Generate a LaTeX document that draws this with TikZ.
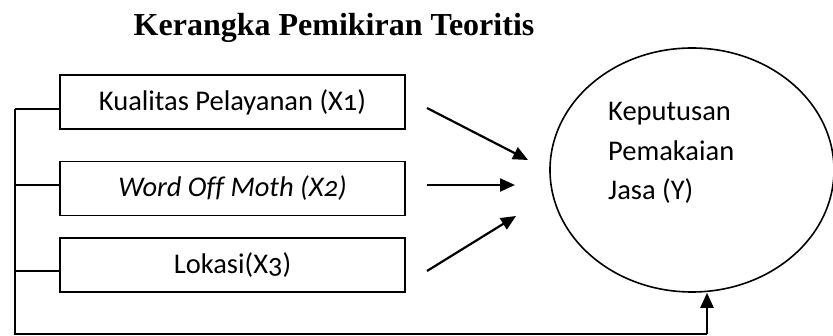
\documentclass[tikz,border=0pt]{standalone}
\usepackage{fontspec}
\setmainfont{Liberation Serif}
\newfontfamily\bodyfont[Numbers=OldStyle,Ligatures=NoCommon]{Carlito}
\usetikzlibrary{arrows.meta,shapes.geometric,calc}
\begin{document}
\begin{tikzpicture}[x=1pt,y=-1pt,
  varbox/.style={draw,line width=1.6pt,minimum width=345pt,minimum height=54pt,inner sep=0pt,font=\bodyfont\fontsize{28.5}{32}\selectfont},
  bus/.style={line width=1.6pt},
  arr/.style={line width=2.2pt,-{Triangle[length=15pt,width=13pt]}},
  etext/.style={anchor=base west,inner sep=0pt,font=\bodyfont\fontsize{28.5}{32}\selectfont}]
\useasboundingbox (0,0) rectangle (833,336);
\node[font=\bfseries\fontsize{32}{36}\selectfont,anchor=base,inner sep=0pt] (title) at (334,36) {Kerangka Pemikiran Teoritis};
\node[varbox] (b1) at (232.5,102) {Kualitas Pelayanan (X1)};
\node[varbox] (b2) at (232.5,188.5) {\itshape Word Off Moth (X2)};
\node[varbox] (b3) at (232.5,265) {Lokasi(X3)};
\node[draw,ellipse,line width=1.6pt,minimum width=284pt,minimum height=244pt,inner sep=0pt] (ell) at (692,170) {};
\node[etext] (t1) at (608,121) {Keputusan};
\node[etext] (t2) at (608,161) {Pemakaian};
\node[etext] (t3) at (608,200) {Jasa (Y)};
% bus
\coordinate (j1) at (15,109);
\coordinate (j2) at (15,185);
\coordinate (j3) at (15,271);
\coordinate (bl) at (15,334);
\coordinate (br) at (707,334);
\draw[bus] (j1) -- (bl) -- (br);
\draw[bus] (j1) -- (b1.west |- j1);
\draw[bus] (j2) -- (b2.west |- j2);
\draw[bus] (j3) -- (b3.west |- j3);
\draw[arr] (br) -- (br |- ell.south);
% arrows
\coordinate (a1s) at (427,108);
\coordinate (a1e) at (528,160);
\coordinate (a2s) at (427,185);
\coordinate (a2e) at (515,185);
\coordinate (a3s) at (427,271);
\coordinate (a3e) at (516,216);
\draw[arr] (a1s) -- (a1e);
\draw[arr] (a2s) -- (a2e);
\draw[arr] (a3s) -- (a3e);
\end{tikzpicture}
\end{document}
